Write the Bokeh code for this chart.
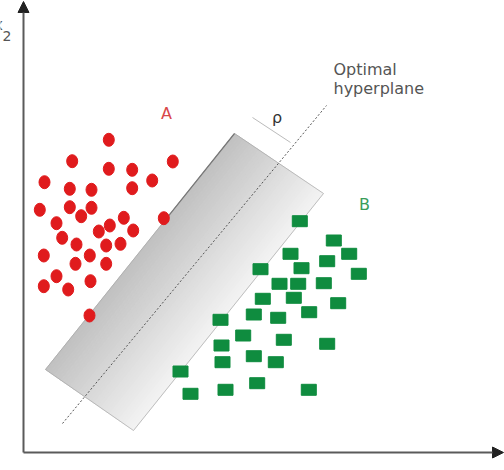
from bokeh.plotting import figure
from bokeh.models import Range1d, Arrow, NormalHead
from bokeh.core.properties import value
from bokeh.embed import file_html
from bokeh.resources import INLINE

# ---- data (feature space x1, x2; origin at the axes' intersection) ----
class_a_x1 = [85.3, 48.7, 85.3, 108.7, 149.3, 21.0, 46.3, 68.0, 108.7, 128.7,
              16.3, 46.3, 68.0, 57.7, 33.0, 100.3, 86.3, 75.3, 109.7, 140.3,
              38.7, 53.0, 82.7, 97.0, 20.3, 52.0, 66.3, 82.7, 33.0, 20.3,
              44.7, 67.0, 66.0]
class_a_x2 = [312.7, 291.3, 283.7, 282.7, 291.0, 270.3, 263.7, 262.7, 264.3, 272.0,
              242.7, 245.3, 244.7, 236.3, 229.3, 234.7, 227.0, 221.0, 222.0, 234.3,
              214.7, 208.0, 207.0, 208.7, 197.0, 188.7, 197.0, 188.7, 176.3, 166.3,
              163.0, 171.3, 137.0]

class_b_x1 = [276.3, 310.3, 267.0, 325.7, 303.7, 237.0, 278.0, 335.3, 256.0, 274.7,
              300.3, 239.3, 270.3, 314.7, 230.3, 254.7, 285.7, 197.0, 219.7, 260.3,
              303.7, 198.0, 199.0, 230.3, 252.3, 157.0, 167.0, 202.0, 233.7, 285.3]
class_b_x2 = [231.3, 212.0, 198.7, 198.7, 191.3, 183.3, 184.3, 178.7, 168.7, 168.7,
              169.3, 153.7, 154.7, 149.3, 138.0, 134.7, 140.3, 132.7, 117.0, 112.7,
              108.7, 107.0, 90.3, 96.3, 90.3, 81.0, 58.7, 62.7, 69.3, 62.7]

# margin band corners (top-left, top-right, bottom-right, bottom-left)
band_x1 = [211.0, 300.0, 110.0, 22.0]
band_x2 = [319.0, 259.0, 22.0, 83.0]

# optimal hyperplane end points
plane_x1 = [39.0, 303.0]
plane_x2 = [29.0, 347.0]

# rho dimension line
rho_x1 = [229.0, 267.0]
rho_x2 = [335.0, 310.0]

# axis extents
axis_x_end = 480.0
axis_y_end = 451.0

# labels
label_texts = ["A", "B", "\u03c1"]
label_x1 = [143.0, 341.0, 253.5]
label_x2 = [339.0, 248.0, 335.0]
label_colors = ["#d9474a", "#3a9d5a", "#333333"]

title_lines = ["Optimal", "hyperplane"]
title_x1 = [310.0, 310.0]
title_x2 = [383.0, 364.0]

# ---- figure ----
p = figure(width=504, height=470, output_backend="svg", toolbar_location=None,
           x_range=Range1d(-23, 481), y_range=Range1d(-18, 452),
           x_axis_type=None, y_axis_type=None, min_border=0)
p.outline_line_color = None
p.background_fill_color = "white"
p.border_fill_color = "white"
p.xgrid.visible = False
p.ygrid.visible = False

# gradient band made of strips
N = 40
c0 = (192, 192, 192)
c1 = (243, 243, 243)
xs, ys, cols = [], [], []
P1 = (band_x1[0], band_x2[0]); P2 = (band_x1[1], band_x2[1])
P3 = (band_x1[2], band_x2[2]); P4 = (band_x1[3], band_x2[3])
for i in range(N):
    t0 = i / N
    t1 = (i + 1) / N
    a = (P1[0] + t0 * (P2[0] - P1[0]), P1[1] + t0 * (P2[1] - P1[1]))
    b = (P1[0] + t1 * (P2[0] - P1[0]), P1[1] + t1 * (P2[1] - P1[1]))
    c = (P4[0] + t1 * (P3[0] - P4[0]), P4[1] + t1 * (P3[1] - P4[1]))
    d = (P4[0] + t0 * (P3[0] - P4[0]), P4[1] + t0 * (P3[1] - P4[1]))
    xs.append([a[0], b[0], c[0], d[0]])
    ys.append([a[1], b[1], c[1], d[1]])
    tm = (t0 + t1) / 2
    col = tuple(int(round(c0[k] + (c1[k] - c0[k]) * tm)) for k in range(3))
    cols.append("#%02x%02x%02x" % col)
p.patches(xs=xs, ys=ys, fill_color=cols, line_color=cols, line_width=1)
p.patch(x=band_x1, y=band_x2, fill_color=None, line_color="#a8a8a8", line_width=1, line_alpha=0.7)
# darker upper part of the left edge
p.line(x=[band_x1[0], band_x1[0] + 0.35 * (band_x1[3] - band_x1[0])],
       y=[band_x2[0], band_x2[0] + 0.35 * (band_x2[3] - band_x2[0])],
       line_color="#777777", line_width=1.2)

# hyperplane
p.line(x=plane_x1, y=plane_x2, line_color="#555555", line_width=1, line_dash="2 2")
# rho line
p.line(x=rho_x1, y=rho_x2, line_color="#bbbbbb", line_width=1)

# points
p.ellipse(x=class_a_x1, y=class_a_x2, width=11, height=13,
          width_units="screen", height_units="screen",
          fill_color="#e01b1d", line_color="#e01b1d")
p.rect(x=class_b_x1, y=class_b_x2, width=15, height=11,
       width_units="screen", height_units="screen",
       fill_color="#0f8c3f", line_color="#0f8c3f")

# axes with arrows
p.add_layout(Arrow(end=NormalHead(size=11, fill_color="#222222", line_color="#222222"),
                   x_start=0, y_start=0, x_end=0, y_end=axis_y_end,
                   line_color="#5a5a5a", line_width=2))
p.add_layout(Arrow(end=NormalHead(size=11, fill_color="#222222", line_color="#222222"),
                   x_start=0, y_start=0, x_end=axis_x_end, y_end=0,
                   line_color="#5a5a5a", line_width=2))

# axis labels (partly cut off by the edge, as in the reference)
p.text(x=[-20.5], y=[428.0], text=["x"], text_font=value("DejaVu Sans"),
       text_font_size="16px", text_color="#555555", text_align="right",
       text_baseline="alphabetic")
p.text(x=[-21.0], y=[417.0], text=["2"], text_font=value("DejaVu Sans"),
       text_font_size="14px", text_color="#555555", text_align="left",
       text_baseline="alphabetic")
p.text(x=[452.0], y=[-23.0], text=["x"], text_font=value("DejaVu Sans"),
       text_font_size="15px", text_color="#555555", text_align="center",
       text_baseline="alphabetic")

# class labels and rho
p.text(x=label_x1, y=label_x2, text=label_texts, text_font=value("DejaVu Sans"),
       text_font_size="16px", text_color=label_colors, text_align="center",
       text_baseline="middle")

# hyperplane title
p.text(x=title_x1, y=title_x2, text=title_lines, text_font=value("DejaVu Sans"),
       text_font_size="16px", text_color="#555555", text_align="left",
       text_baseline="middle")

open("out.html", "w").write(file_html(p, INLINE))
